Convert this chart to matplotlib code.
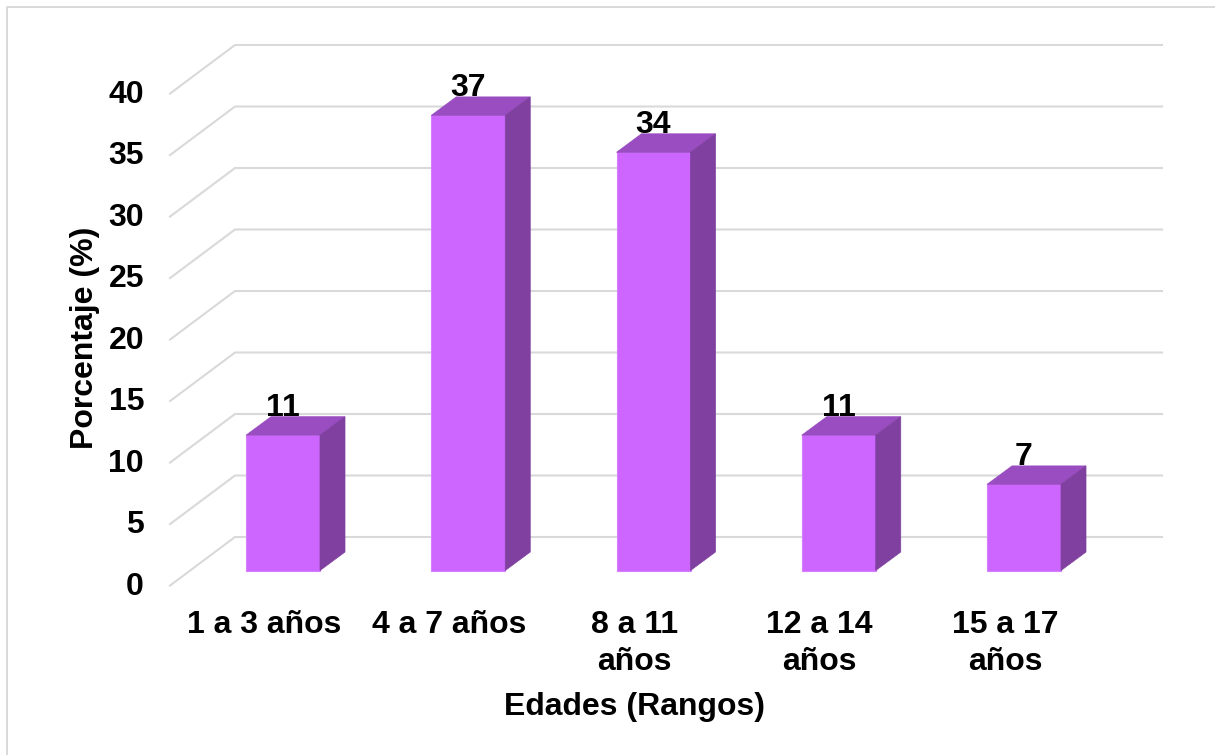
import numpy as np
import matplotlib
matplotlib.use("Agg")
import matplotlib.pyplot as plt
from matplotlib.patches import Polygon

plt.rcParams['font.family'] = ['Liberation Sans', 'DejaVu Sans']

categorias = ["1 a 3 años", "4 a 7 años", "8 a 11\naños", "12 a 14\naños", "15 a 17\naños"]
porcentajes = [11, 37, 34, 11, 7]
ticks_y = [0, 5, 10, 15, 20, 25, 30, 35, 40]

W, H = 1215, 755
fig = plt.figure(figsize=(W/100, H/100), dpi=100)
ax = fig.add_axes([0, 0, 1, 1])
ax.set_axis_off()

# one category = 185.25 px, one percent = 12.3 px
px_x = 185.25
px_y = 12.3
ax.set_xlim(-283/px_x, (W-283)/px_x)
ax.set_ylim((570.5-H)/px_y, 570.5/px_y)

ancho = 74/px_x
prof_x = 25/px_x
prof_y = 18.5/px_y
fs = 23

# walls: left diagonal plus back line for each tick
x_frente = -113/px_x
x_fondo = -48/px_x
x_fin = (1162-283)/px_x
y_frente = -15.1/px_y
y_fondo = 33.5/px_y
for t in ticks_y:
    ax.plot([x_frente, x_fondo, x_fin], [t+y_frente, t+y_fondo, t+y_fondo],
            color='#D9D9D9', lw=1.5, zorder=1, solid_joinstyle='miter')
    ax.text(x_frente-0.14, t+y_frente-0.08, str(t), ha='right', va='center',
            fontsize=fs, fontweight='bold', zorder=5)

# labels sit behind the bars, the top face clips them a bit
for i, v in enumerate(porcentajes):
    ax.text(i, v+1.57, str(v), ha='center', va='baseline',
            fontsize=fs, fontweight='bold', zorder=2)

for i, v in enumerate(porcentajes):
    x0, x1 = i-ancho/2, i+ancho/2
    ax.add_patch(Polygon([(x0, 0), (x1, 0), (x1, v), (x0, v)], fc='#CC66FF', ec='#D67FFF', lw=0.8, zorder=3))
    ax.add_patch(Polygon([(x0, v), (x1, v), (x1+prof_x, v+prof_y), (x0+prof_x, v+prof_y)],
                         fc='#9A4DC0', ec='#9A4DC0', lw=0.5, zorder=3))
    ax.add_patch(Polygon([(x1, 0), (x1+prof_x, prof_y), (x1+prof_x, v+prof_y), (x1, v)],
                         fc='#8040A0', ec='#8040A0', lw=0.5, zorder=3))
    ax.text(i-19/px_x, -3.2, categorias[i], ha='center', va='top', fontsize=fs, fontweight='bold',
            linespacing=1.32, zorder=5)

ax.text((85-283)/px_x, (570.5-338)/px_y, "Porcentaje (%)", rotation=90, ha='center', va='center',
        fontsize=fs, fontweight='bold')
ax.text((635-283)/px_x, (570.5-707)/px_y, "Edades (Rangos)", ha='center', va='center',
        fontsize=fs, fontweight='bold')

# chart frame
fig.add_artist(plt.Line2D([7/W, 7/W, 1], [0, 1-6.5/H, 1-6.5/H], color='#D9D9D9', lw=1.4))

fig.savefig("out.png", dpi=100)
